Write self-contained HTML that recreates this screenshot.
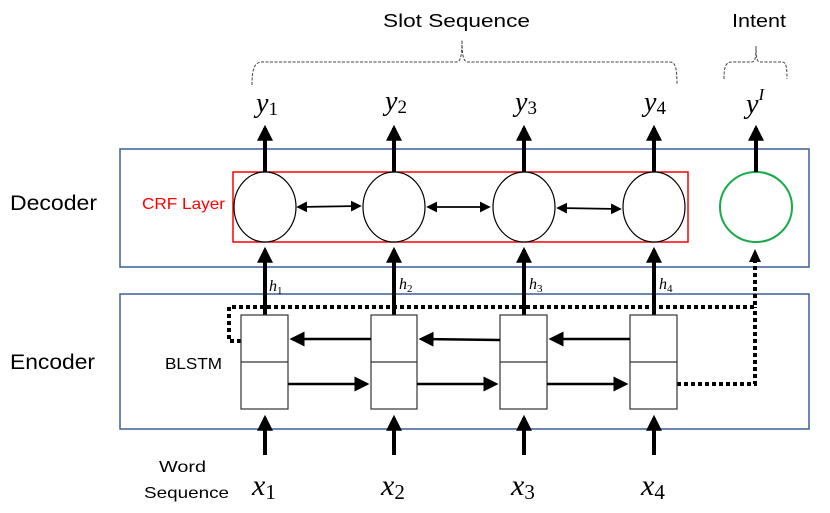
<!DOCTYPE html>
<html><head><meta charset="utf-8"><style>
html,body{margin:0;padding:0;background:#fff;}
svg{display:block;}
text.t{font-family:"Liberation Sans",sans-serif;}
.m text{font-family:"Liberation Serif",serif;font-style:italic;}
.m tspan{font-family:"Liberation Serif",serif;}
</style></head><body>
<svg width="830" height="513" viewBox="0 0 830 513" xmlns="http://www.w3.org/2000/svg">
<defs>
<marker id="a" markerWidth="4" markerHeight="4" refX="3.2" refY="2" orient="auto" markerUnits="strokeWidth"><path d="M0,0 L4,2 L0,4 z" fill="#000"/></marker>
<marker id="s" markerWidth="6" markerHeight="6" refX="5" refY="3" orient="auto" markerUnits="strokeWidth"><path d="M0,0 L6,3 L0,6 z" fill="#000"/></marker>
<marker id="sb" markerWidth="6" markerHeight="6" refX="1" refY="3" orient="auto" markerUnits="strokeWidth"><path d="M6,0 L0,3 L6,6 z" fill="#000"/></marker>
</defs>
<!-- braces -->
<path d="M252,85 C252,70 254,62 262,62 L456,62 C460,62 462,58 462,40 C462,58 464,62 468,62 L670,62 C676,62 677,70 677,85" fill="none" stroke="#444" stroke-width="1" stroke-dasharray="3,1.5"/>
<path d="M724,79 C724,66 726,62 732,62 L752,62 C755,62 756,58 756,46 C756,58 757,62 760,62 L782,62 C786,62 787,66 787,79" fill="none" stroke="#444" stroke-width="1" stroke-dasharray="3,1.5"/>
<text class="t" x="383" y="27" font-size="18" textLength="147" lengthAdjust="spacingAndGlyphs">Slot Sequence</text>
<text class="t" x="732" y="27" font-size="18" textLength="54" lengthAdjust="spacingAndGlyphs">Intent</text>
<!-- y labels -->
<g class="m" font-size="28" fill="#000">
<text x="256" y="112">y<tspan font-size="19" font-style="normal" dy="3">1</tspan></text>
<text x="385" y="110">y<tspan font-size="19" font-style="normal" dy="3">2</tspan></text>
<text x="515" y="111">y<tspan font-size="19" font-style="normal" dy="3">3</tspan></text>
<text x="644" y="111">y<tspan font-size="19" font-style="normal" dy="3">4</tspan></text>
<text x="746" y="113">y<tspan font-size="17" dy="-13">I</tspan></text>
</g>
<!-- boxes -->
<rect x="120" y="149" width="689" height="118" fill="none" stroke="#3b5f9c" stroke-width="1.5"/>
<rect x="120" y="294" width="689" height="135" fill="none" stroke="#3b5f9c" stroke-width="1.5"/>
<text class="t" x="10" y="210" font-size="21" textLength="87" lengthAdjust="spacingAndGlyphs">Decoder</text>
<text class="t" x="10" y="369" font-size="21" textLength="85" lengthAdjust="spacingAndGlyphs">Encoder</text>
<rect x="233" y="172" width="455" height="70" fill="none" stroke="#f00" stroke-width="1.5"/>
<text class="t" x="142" y="209" font-size="16" fill="#f00" textLength="83" lengthAdjust="spacingAndGlyphs">CRF Layer</text>
<text class="t" x="165" y="369" font-size="16" textLength="57" lengthAdjust="spacingAndGlyphs">BLSTM</text>
<text class="t" x="159" y="472" font-size="16" textLength="47" lengthAdjust="spacingAndGlyphs">Word</text>
<text class="t" x="144" y="498" font-size="16" textLength="85" lengthAdjust="spacingAndGlyphs">Sequence</text>
<!-- circles -->
<g fill="#fff" stroke="#000" stroke-width="1.2">
<ellipse cx="265" cy="207" rx="31" ry="35"/>
<ellipse cx="394" cy="207" rx="31" ry="35"/>
<ellipse cx="524" cy="207" rx="31" ry="35"/>
<ellipse cx="654" cy="207" rx="31" ry="35"/>
</g>
<ellipse cx="756" cy="207" rx="36" ry="35" fill="#fff" stroke="#1aaa4a" stroke-width="2"/>
<!-- up arrows to y -->
<g stroke="#000" stroke-width="4" marker-end="url(#a)">
<line x1="265" y1="172" x2="265" y2="128"/>
<line x1="394" y1="172" x2="394" y2="128"/>
<line x1="524" y1="172" x2="524" y2="128"/>
<line x1="654" y1="172" x2="654" y2="128"/>
<line x1="756" y1="172" x2="756" y2="128"/>
</g>
<!-- CRF double arrows -->
<g stroke="#000" stroke-width="1.8" marker-end="url(#s)" marker-start="url(#sb)">
<line x1="298" y1="207" x2="360" y2="206"/>
<line x1="428" y1="207" x2="489" y2="207"/>
<line x1="558" y1="208" x2="620" y2="209"/>
</g>
<!-- dotted -->
<g fill="none" stroke="#000" stroke-width="4" stroke-dasharray="4,3">
<polyline points="241,341 229,341 229,307 755,307 755,262"/>
<polyline points="677,384 755,384 755,307"/>
</g>
<path d="M749,262 L761,262 L755,249 z" fill="#000"/>
<!-- h arrows -->
<g stroke="#000" stroke-width="4" marker-end="url(#a)">
<line x1="265" y1="315" x2="265" y2="250"/>
<line x1="394" y1="315" x2="394" y2="250"/>
<line x1="524" y1="315" x2="524" y2="250"/>
<line x1="654" y1="315" x2="654" y2="250"/>
<line x1="265" y1="455" x2="265" y2="418"/>
<line x1="394" y1="455" x2="394" y2="418"/>
<line x1="524" y1="455" x2="524" y2="418"/>
<line x1="654" y1="455" x2="654" y2="418"/>
</g>
<g class="m" font-size="16">
<text x="269" y="291">h<tspan font-size="11" font-style="normal" dy="3">1</tspan></text>
<text x="399" y="289">h<tspan font-size="11" font-style="normal" dy="3">2</tspan></text>
<text x="529" y="289">h<tspan font-size="11" font-style="normal" dy="3">3</tspan></text>
<text x="659" y="289">h<tspan font-size="11" font-style="normal" dy="3">4</tspan></text>
</g>
<!-- LSTM cells -->
<g fill="#fff" stroke="#333" stroke-width="1.2">
<rect x="241" y="315" width="47" height="94"/><line x1="241" y1="362" x2="288" y2="362"/>
<rect x="371" y="315" width="46" height="94"/><line x1="371" y1="362" x2="417" y2="362"/>
<rect x="500" y="315" width="47" height="94"/><line x1="500" y1="362" x2="547" y2="362"/>
<rect x="630" y="315" width="47" height="94"/><line x1="630" y1="362" x2="677" y2="362"/>
</g>
<g stroke="#000" stroke-width="2.5" marker-end="url(#s)">
<line x1="371" y1="339" x2="292" y2="339"/>
<line x1="500" y1="340" x2="421" y2="339"/>
<line x1="630" y1="339" x2="551" y2="339"/>
<line x1="288" y1="384" x2="367" y2="384"/>
<line x1="417" y1="384" x2="496" y2="384"/>
<line x1="547" y1="384" x2="626" y2="384"/>
</g>
<!-- x labels -->
<g class="m" font-size="30">
<text x="252" y="495">x<tspan font-size="21" font-style="normal" dy="4">1</tspan></text>
<text x="381" y="495">x<tspan font-size="21" font-style="normal" dy="4">2</tspan></text>
<text x="511" y="495">x<tspan font-size="21" font-style="normal" dy="4">3</tspan></text>
<text x="641" y="495">x<tspan font-size="21" font-style="normal" dy="4">4</tspan></text>
</g>
</svg>
</body></html>
